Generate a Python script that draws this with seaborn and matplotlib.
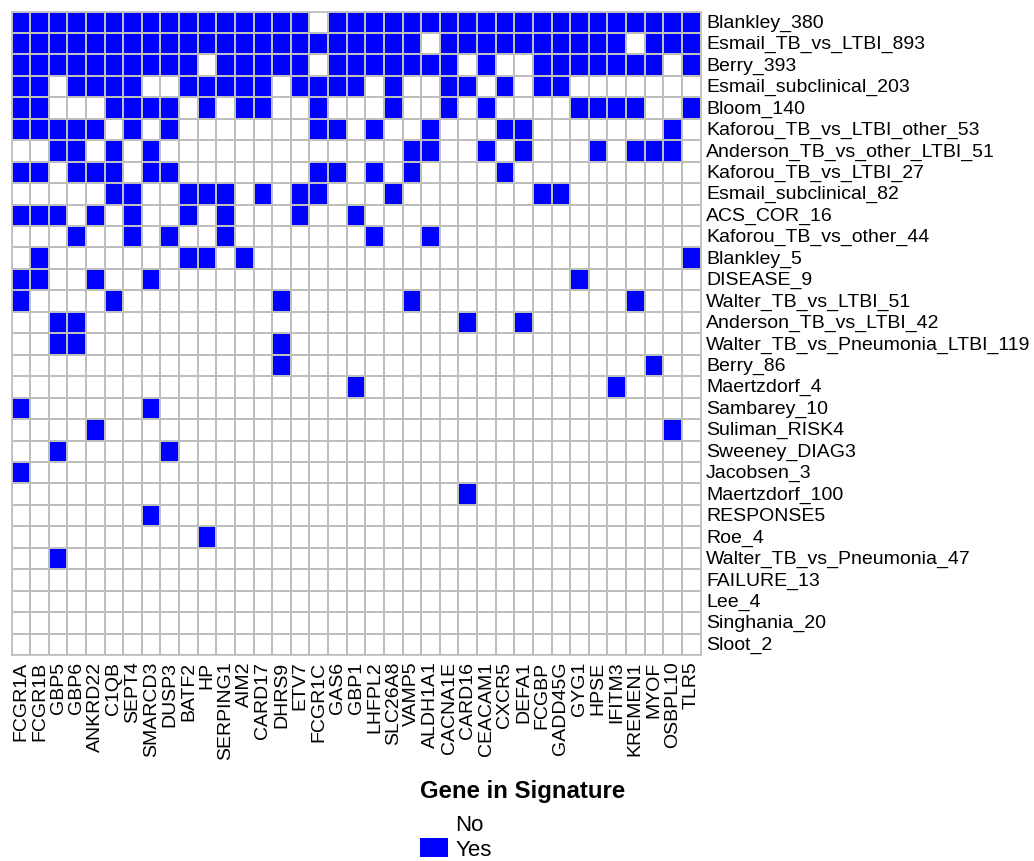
import numpy as np
import pandas as pd
import matplotlib
matplotlib.use("Agg")
import matplotlib.pyplot as plt
import seaborn as sns
from matplotlib.colors import ListedColormap
from matplotlib.patches import Patch

genes = ["FCGR1A", "FCGR1B", "GBP5", "GBP6", "ANKRD22", "C1QB", "SEPT4", "SMARCD3",
         "DUSP3", "BATF2", "HP", "SERPING1", "AIM2", "CARD17", "DHRS9", "ETV7",
         "FCGR1C", "GAS6", "GBP1", "LHFPL2", "SLC26A8", "VAMP5", "ALDH1A1", "CACNA1E",
         "CARD16", "CEACAM1", "CXCR5", "DEFA1", "FCGBP", "GADD45G", "GYG1", "HPSE",
         "IFITM3", "KREMEN1", "MYOF", "OSBPL10", "TLR5"]

signatures = ["Blankley_380", "Esmail_TB_vs_LTBI_893", "Berry_393", "Esmail_subclinical_203",
              "Bloom_140", "Kaforou_TB_vs_LTBI_other_53", "Anderson_TB_vs_other_LTBI_51",
              "Kaforou_TB_vs_LTBI_27", "Esmail_subclinical_82", "ACS_COR_16",
              "Kaforou_TB_vs_other_44", "Blankley_5", "DISEASE_9", "Walter_TB_vs_LTBI_51",
              "Anderson_TB_vs_LTBI_42", "Walter_TB_vs_Pneumonia_LTBI_119", "Berry_86",
              "Maertzdorf_4", "Sambarey_10", "Suliman_RISK4", "Sweeney_DIAG3", "Jacobsen_3",
              "Maertzdorf_100", "RESPONSE5", "Roe_4", "Walter_TB_vs_Pneumonia_47",
              "FAILURE_13", "Lee_4", "Singhania_20", "Sloot_2"]

# genes contained in each signature (subset of the genes above)
members = {
    "Blankley_380": [g for g in genes if g != "FCGR1C"],
    "Esmail_TB_vs_LTBI_893": [g for g in genes if g not in ("ALDH1A1", "KREMEN1")],
    "Berry_393": [g for g in genes if g not in ("HP", "FCGR1C", "CARD16", "CXCR5", "DEFA1", "OSBPL10")],
    "Esmail_subclinical_203": ["FCGR1A", "FCGR1B", "GBP6", "ANKRD22", "C1QB", "SEPT4", "BATF2", "HP",
                               "SERPING1", "AIM2", "CARD17", "ETV7", "FCGR1C", "GAS6", "GBP1",
                               "SLC26A8", "CACNA1E", "CARD16", "CXCR5", "FCGBP", "GADD45G"],
    "Bloom_140": ["FCGR1A", "FCGR1B", "C1QB", "SEPT4", "SMARCD3", "DUSP3", "HP", "AIM2", "CARD17",
                  "FCGR1C", "SLC26A8", "CACNA1E", "CEACAM1", "GYG1", "HPSE", "IFITM3", "KREMEN1", "TLR5"],
    "Kaforou_TB_vs_LTBI_other_53": ["FCGR1A", "FCGR1B", "GBP5", "GBP6", "ANKRD22", "SEPT4", "DUSP3",
                                    "FCGR1C", "GAS6", "LHFPL2", "ALDH1A1", "CXCR5", "DEFA1", "OSBPL10"],
    "Anderson_TB_vs_other_LTBI_51": ["GBP5", "GBP6", "C1QB", "SMARCD3", "VAMP5", "ALDH1A1", "CEACAM1",
                                     "DEFA1", "HPSE", "KREMEN1", "MYOF", "OSBPL10"],
    "Kaforou_TB_vs_LTBI_27": ["FCGR1A", "FCGR1B", "GBP6", "ANKRD22", "C1QB", "SMARCD3", "DUSP3",
                              "FCGR1C", "GAS6", "LHFPL2", "VAMP5", "CXCR5"],
    "Esmail_subclinical_82": ["C1QB", "SEPT4", "BATF2", "HP", "SERPING1", "CARD17", "ETV7", "FCGR1C",
                              "SLC26A8", "FCGBP", "GADD45G"],
    "ACS_COR_16": ["FCGR1A", "FCGR1B", "GBP5", "ANKRD22", "SEPT4", "BATF2", "SERPING1", "ETV7", "GBP1"],
    "Kaforou_TB_vs_other_44": ["GBP6", "SEPT4", "DUSP3", "SERPING1", "LHFPL2", "ALDH1A1"],
    "Blankley_5": ["FCGR1B", "BATF2", "HP", "AIM2", "TLR5"],
    "DISEASE_9": ["FCGR1A", "FCGR1B", "ANKRD22", "SMARCD3", "GYG1"],
    "Walter_TB_vs_LTBI_51": ["FCGR1A", "C1QB", "DHRS9", "VAMP5", "KREMEN1"],
    "Anderson_TB_vs_LTBI_42": ["GBP5", "GBP6", "CARD16", "DEFA1"],
    "Walter_TB_vs_Pneumonia_LTBI_119": ["GBP5", "GBP6", "DHRS9"],
    "Berry_86": ["DHRS9", "MYOF"],
    "Maertzdorf_4": ["GBP1", "IFITM3"],
    "Sambarey_10": ["FCGR1A", "SMARCD3"],
    "Suliman_RISK4": ["ANKRD22", "OSBPL10"],
    "Sweeney_DIAG3": ["GBP5", "DUSP3"],
    "Jacobsen_3": ["FCGR1A"],
    "Maertzdorf_100": ["CARD16"],
    "RESPONSE5": ["SMARCD3"],
    "Roe_4": ["HP"],
    "Walter_TB_vs_Pneumonia_47": ["GBP5"],
    "FAILURE_13": [],
    "Lee_4": [],
    "Singhania_20": [],
    "Sloot_2": [],
}

legend_title = "Gene in Signature"
legend_labels = ["No", "Yes"]

mat = pd.DataFrame(
    [[1 if g in members[s] else 0 for g in genes] for s in signatures],
    index=signatures, columns=genes)

plt.rcParams['font.family'] = ['Liberation Sans', 'DejaVu Sans']

fig = plt.figure(figsize=(10.34, 8.62), dpi=100)
ax = fig.add_axes([11.5/1034, 1 - 656/862, (700.5 - 11.5)/1034, (656 - 12.5)/862])

cmap = ListedColormap(["#FFFFFF", "#0000FF"])
sns.heatmap(mat, ax=ax, cmap=cmap, vmin=0, vmax=1, cbar=False,
            linewidths=1.2, linecolor="#BEBEBE", square=False)

ax.yaxis.tick_right()
ax.set_yticks(np.arange(len(signatures)) + 0.5)
ax.set_yticklabels(signatures, rotation=0, fontsize=14, va="center")
ax.set_xticks(np.arange(len(genes)) + 0.5)
ax.set_xticklabels(genes, rotation=90, fontsize=14, ha="center", va="top")
ax.tick_params(axis="both", length=0, pad=4)
ax.set_xlabel("")
ax.set_ylabel("")
for s in ax.spines.values():
    s.set_visible(True)
    s.set_color("#BEBEBE")
    s.set_linewidth(1.2)

handles = [Patch(facecolor="#FFFFFF", edgecolor="none"),
           Patch(facecolor="#0000FF", edgecolor="none")]
leg = fig.legend(handles, legend_labels, title=legend_title,
                 loc="upper left", bbox_to_anchor=(420/1034, 1 - 780/862),
                 frameon=False, fontsize=16, title_fontproperties={"weight": "bold", "size": 17.3},
                 handlelength=1.25, handleheight=0.95, handletextpad=0.35,
                 labelspacing=0.1, borderaxespad=0, borderpad=0)
leg._legend_box.align = "left"
leg._legend_box.sep = 8.0

fig.savefig("out.png", dpi=100)
